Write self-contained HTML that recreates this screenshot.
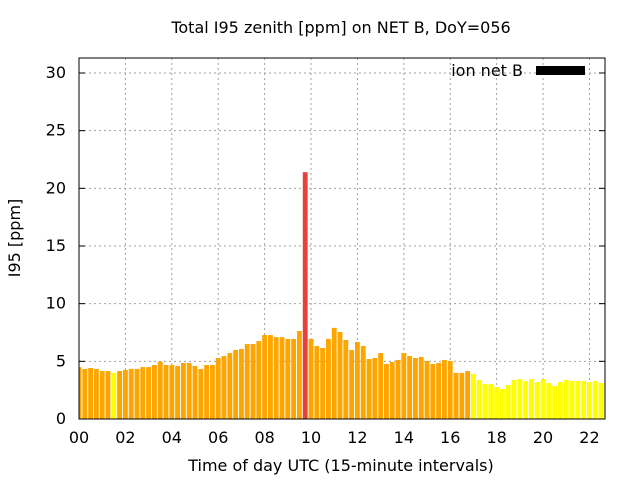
<!DOCTYPE html>
<html><head><meta charset="utf-8"><style>
body{margin:0;background:#fff;}
svg text{font-family:"DejaVu Sans","Liberation Sans",sans-serif;font-size:16px;fill:#000;}
</style></head><body>
<svg id="chart" width="640" height="480">
<text x="341" y="33" text-anchor="middle">Total I95 zenith [ppm] on NET B, DoY=056</text>
<text x="341" y="471" text-anchor="middle">Time of day UTC (15-minute intervals)</text>
<text transform="translate(20,238) rotate(-90)" text-anchor="middle">I95 [ppm]</text>
<g id="grid"></g><g id="bars"></g><g id="axes"></g>
<text x="523" y="76" text-anchor="end">ion net B</text>
<rect x="536" y="66" width="49" height="9" fill="#000"/>
</svg>
<script>
const values=[4.5,4.34,4.42,4.34,4.16,4.16,4.0,4.16,4.25,4.34,4.34,4.5,4.5,4.68,4.97,4.68,4.68,4.6,4.86,4.86,4.6,4.34,4.68,4.68,
5.29,5.46,5.72,5.98,6.07,6.5,6.5,6.76,7.28,7.28,7.1,7.1,6.94,6.94,7.63,21.4,6.94,6.33,6.16,6.94,7.9,
7.55,6.85,5.98,6.68,6.33,5.2,5.29,5.72,4.77,4.94,5.12,5.72,5.46,5.29,5.38,5.03,4.77,4.86,5.12,5.03,4.0,4.0,4.16,
3.9,3.38,3.03,3.03,2.77,2.6,2.95,3.38,3.47,3.3,3.47,3.2,3.47,3.12,2.86,3.2,3.38,3.3,3.3,3.3,3.2,3.3,3.12,3.12];
const levels=[0,0,0,0,0,0,1,0,0,0,0,0,0,0,0,0,0,0,0,0,0,0,0,0,0,0,0,0,0,0,0,0,0,0,0,0,0,0,0,2,0,0,0,0,0,
0,0,0,0,0,0,0,0,0,0,0,0,0,0,0,0,0,0,0,0,0,0,0,1,1,1,1,1,1,1,1,1,1,1,1,1,1,1,1,1,1,1,1,1,1,1,1];
const xTicks=["00","02","04","06","08","10","12","14","16","18","20","22"];
const yTicks=[0,5,10,15,20,25,30];
const colors=["#ffa500","#ffff00","#e8413c"];
const L=79,R=605,T=58,B=419,XMAX=22.67,YMAX=31.3;
const xs=h=>L+h/XMAX*(R-L), ys=v=>B-v/YMAX*(B-T);
const NS="http://www.w3.org/2000/svg";
function mk(tag,at,parent){const e=document.createElementNS(NS,tag);for(const k in at)e.setAttribute(k,at[k]);document.getElementById(parent).appendChild(e);return e;}
yTicks.forEach(v=>{const y=ys(v);
 if(v>0){const g=mk('line',{x1:L,x2:R,y1:y,y2:y,stroke:'#a0a0a0','stroke-dasharray':'2,3'},'grid');
 
 }
 const t=mk('text',{x:L-13,y:y+5,'text-anchor':'end'},'axes');t.textContent=v;
 
 
 mk('line',{x1:L,x2:L+6,y1:y,y2:y,stroke:'#000'},'axes');
 mk('line',{x1:R,x2:R-6,y1:y,y2:y,stroke:'#000'},'axes');});
xTicks.forEach(s=>{const x=xs(+s);
 if(+s>0){const g=mk('line',{x1:x,x2:x,y1:T,y2:B,stroke:'#a0a0a0','stroke-dasharray':'2,3'},'grid');
 
 }
 const t=mk('text',{x:x,y:B+24,'text-anchor':'middle'},'axes');t.textContent=s;
 
 });
values.forEach((v,i)=>{const h=i*0.25,w=0.21;let x0=Math.max(xs(h-w/2),L),x1=Math.min(xs(h+w/2),R);
 const r=mk('rect',{x:x0,y:ys(v),width:x1-x0,height:B-ys(v),fill:colors[levels[i]]},'bars');
 
 });
const f=mk('rect',{x:L,y:T,width:R-L,height:B-T,fill:'none',stroke:'#000'},'axes');


</script>
</body></html>
